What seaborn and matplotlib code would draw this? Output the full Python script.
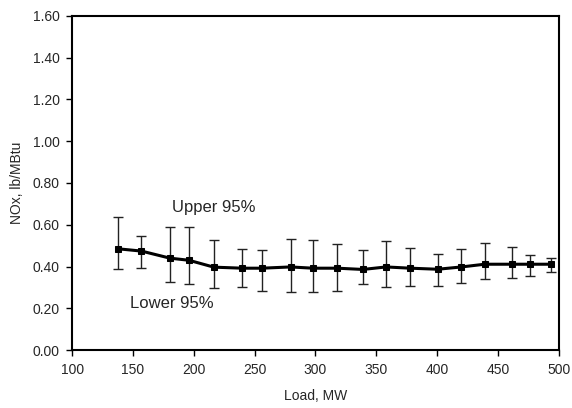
import matplotlib
matplotlib.use("Agg")
import matplotlib.pyplot as plt
import seaborn as sns
import pandas as pd
from matplotlib.ticker import FormatStrFormatter, MultipleLocator

load_mw = [137.5, 157, 180.5, 196, 216.5, 240, 256, 279.5, 298, 318, 339, 358, 378, 400.5, 420, 439, 461.5, 476.5, 493.5]
nox = [0.485, 0.474, 0.440, 0.430, 0.397, 0.392, 0.392, 0.398, 0.392, 0.392, 0.386, 0.398, 0.392, 0.387, 0.398, 0.411, 0.411, 0.411, 0.411]
upper95 = [0.638, 0.544, 0.587, 0.587, 0.525, 0.482, 0.477, 0.531, 0.525, 0.506, 0.477, 0.520, 0.488, 0.462, 0.482, 0.514, 0.494, 0.456, 0.443]
lower95 = [0.389, 0.394, 0.326, 0.314, 0.296, 0.302, 0.283, 0.277, 0.277, 0.283, 0.315, 0.302, 0.309, 0.309, 0.320, 0.341, 0.346, 0.357, 0.376]

df = pd.DataFrame({"load": load_mw, "nox": nox, "up": upper95, "lo": lower95})

sns.set_style("white")
plt.rcParams["font.family"] = ["Liberation Sans", "DejaVu Sans"]

fig = plt.figure(figsize=(5.72, 4.08), dpi=100)
ax = fig.add_axes([0.126, 0.142, 0.851, 0.819])

yerr = [df["nox"] - df["lo"], df["up"] - df["nox"]]
ax.errorbar(df["load"], df["nox"], yerr=yerr, fmt="none", ecolor="#222222",
            elinewidth=1.0, capsize=3.6, capthick=1.0, zorder=2)
sns.lineplot(data=df, x="load", y="nox", ax=ax, color="black", linewidth=2.2,
             marker="s", markersize=5, markeredgecolor="black",
             markerfacecolor="black", zorder=3)

ax.set_xlim(100, 500)
ax.set_ylim(0, 1.6)
ax.xaxis.set_major_locator(MultipleLocator(50))
ax.yaxis.set_major_locator(MultipleLocator(0.2))
ax.yaxis.set_major_formatter(FormatStrFormatter("%.2f"))

for s in ax.spines.values():
    s.set_color("black")
    s.set_linewidth(1.5)

ax.tick_params(axis="both", which="major", direction="out", length=4,
               width=1.0, color="black", labelsize=10, pad=5,
               bottom=True, left=True)

ax.set_xlabel("Load, MW", fontsize=10, labelpad=9)
ax.set_ylabel("NOx, lb/MBtu", fontsize=10, labelpad=6)

ax.text(182, 0.685, "Upper 95%", fontsize=12, va="center", ha="left")
ax.text(148, 0.221, "Lower 95%", fontsize=12, va="center", ha="left")

fig.savefig("out.png", dpi=100)
